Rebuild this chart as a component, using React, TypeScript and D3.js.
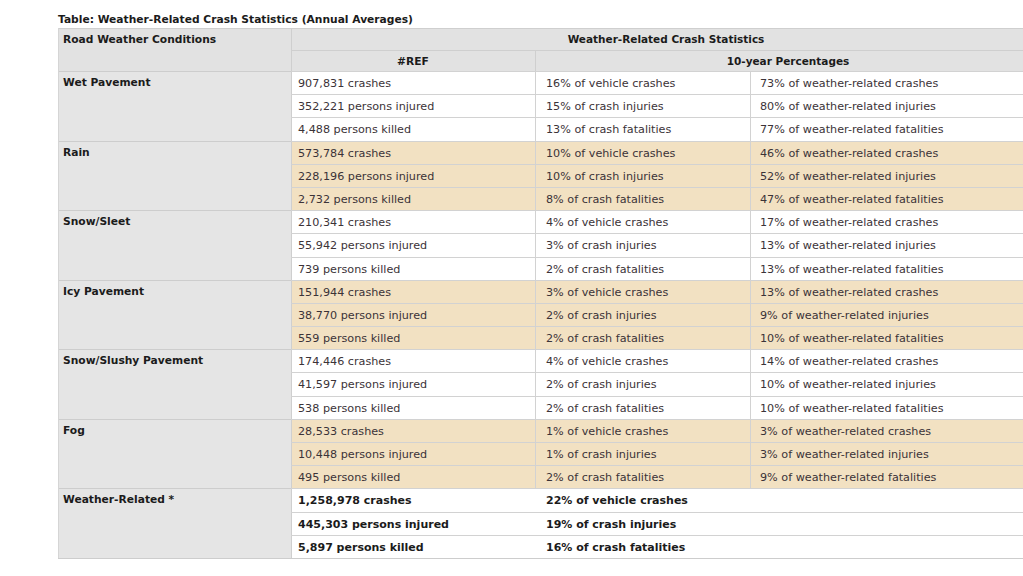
import React from "react";
import * as d3 from "d3";

const conditions = ["Wet Pavement", "Rain", "Snow/Sleet", "Icy Pavement", "Snow/Slushy Pavement", "Fog", "Weather-Related *"];
const crashes = [907831, 573784, 210341, 151944, 174446, 28533, 1258978];
const injured = [352221, 228196, 55942, 38770, 41597, 10448, 445303];
const killed = [4488, 2732, 739, 559, 538, 495, 5897];
const pctVehicleCrashes = [16, 10, 4, 3, 4, 1, 22];
const pctCrashInjuries = [15, 10, 3, 2, 2, 1, 19];
const pctCrashFatalities = [13, 8, 2, 2, 2, 2, 16];
const pctWxCrashes = [73, 46, 17, 13, 14, 3, null];
const pctWxInjuries = [80, 52, 13, 9, 10, 3, null];
const pctWxFatalities = [77, 47, 13, 10, 10, 9, null];

const title = "Table: Weather-Related Crash Statistics (Annual Averages)";
const headerCol1 = "Road Weather Conditions";
const headerTop = "Weather-Related Crash Statistics";
const headerRef = "#REF";
const headerPct = "10-year Percentages";

const W = 1023;
const H = 576;
const colEdges = [58, 291, 535, 750, 1041];
const top1 = 28, top2 = 50, dataTop = 71, dataBottom = 558;

const FONT = "'DejaVu Sans', Verdana, sans-serif";
const FS = 11.2;
const FSB = 10.7;
const TXT = "#3b3338";
const BOLD = "#1b1b1b";
const HEAD_BG = "#e2e2e2";
const COL1_BG = "#e5e5e5";
const WHEAT = "#f2e1c2";
const LINE = "#d2d2d2";

export default function App() {
  const nRows = conditions.length * 3;
  const y = d3.scaleLinear().domain([0, nRows]).range([dataTop, dataBottom]);
  const fmt = d3.format(",");

  const rows: { g: number; r: number; c2: string; c3: string; c4: string | null; bold: boolean }[] = [];
  conditions.forEach((_, g) => {
    const last = g === conditions.length - 1;
    rows.push({ g, r: g * 3, c2: `${fmt(crashes[g])} crashes`, c3: `${pctVehicleCrashes[g]}% of vehicle crashes`, c4: pctWxCrashes[g] == null ? null : `${pctWxCrashes[g]}% of weather-related crashes`, bold: last });
    rows.push({ g, r: g * 3 + 1, c2: `${fmt(injured[g])} persons injured`, c3: `${pctCrashInjuries[g]}% of crash injuries`, c4: pctWxInjuries[g] == null ? null : `${pctWxInjuries[g]}% of weather-related injuries`, bold: last });
    rows.push({ g, r: g * 3 + 2, c2: `${fmt(killed[g])} persons killed`, c3: `${pctCrashFatalities[g]}% of crash fatalities`, c4: pctWxFatalities[g] == null ? null : `${pctWxFatalities[g]}% of weather-related fatalities`, bold: last });
  });

  const rh = y(1) - y(0);

  return (
    <svg width={W} height={H} style={{ position: "absolute", left: 0, top: 0, background: "#fff" }} fontFamily={FONT}>
      <text x={58} y={23} fontSize={10.7} fontWeight="bold" fill={BOLD}>{title}</text>

      {/* header */}
      <rect x={colEdges[0]} y={top1} width={colEdges[4] - colEdges[0]} height={dataTop - top1} fill={HEAD_BG} />
      <line x1={colEdges[0]} x2={colEdges[4]} y1={top1 + 0.5} y2={top1 + 0.5} stroke="#cfcfcf" />
      <line x1={colEdges[1]} x2={colEdges[4]} y1={top2 + 0.5} y2={top2 + 0.5} stroke="#cfcfcf" />
      <line x1={colEdges[1] + 0.5} x2={colEdges[1] + 0.5} y1={top1} y2={dataBottom} stroke="#cfcfcf" />
      <line x1={colEdges[2] + 0.5} x2={colEdges[2] + 0.5} y1={top2} y2={dataTop} stroke="#cfcfcf" />
      <text x={63} y={top1 + 15} fontSize={FSB} fontWeight="bold" fill={BOLD}>{headerCol1}</text>
      <text x={(colEdges[1] + colEdges[4]) / 2} y={top1 + 15} fontSize={10.5} fontWeight="bold" fill={BOLD} textAnchor="middle">{headerTop}</text>
      <text x={(colEdges[1] + colEdges[2]) / 2} y={top2 + 15} fontSize={FSB} fontWeight="bold" fill={BOLD} textAnchor="middle">{headerRef}</text>
      <text x={(colEdges[2] + colEdges[4]) / 2} y={top2 + 15} fontSize={10.5} fontWeight="bold" fill={BOLD} textAnchor="middle">{headerPct}</text>

      {/* column 1 */}
      <rect x={colEdges[0]} y={dataTop} width={colEdges[1] - colEdges[0]} height={dataBottom - dataTop} fill={COL1_BG} />
      {conditions.map((c, g) => (
        <g key={c}>
          <line x1={colEdges[0]} x2={colEdges[1]} y1={Math.round(y(g * 3)) + 0.5} y2={Math.round(y(g * 3)) + 0.5} stroke="#cdcdcd" />
          <text x={63} y={y(g * 3) + 15} fontSize={FSB} fontWeight="bold" fill={BOLD}>{c}</text>
        </g>
      ))}
      <line x1={colEdges[0] + 0.5} x2={colEdges[0] + 0.5} y1={top1} y2={dataBottom} stroke="#d5d5d5" />

      {/* data rows */}
      {rows.map((d) => {
        const yt = Math.round(y(d.r));
        const stripe = d.g % 2 === 1;
        const bg = stripe ? WHEAT : "#ffffff";
        const last = d.g === conditions.length - 1;
        return (
          <g key={d.r}>
            <rect x={colEdges[1] + 1} y={yt} width={colEdges[4] - colEdges[1] - 1} height={rh + 1} fill={bg} />
            <line x1={colEdges[1]} x2={colEdges[4]} y1={yt + 0.5} y2={yt + 0.5} stroke={LINE} />
            {!last && <line x1={colEdges[2] + 0.5} x2={colEdges[2] + 0.5} y1={yt} y2={yt + rh + 1} stroke={LINE} />}
            {!last && <line x1={colEdges[3] + 0.5} x2={colEdges[3] + 0.5} y1={yt} y2={yt + rh + 1} stroke={LINE} />}
            <text x={colEdges[1] + 7} y={y(d.r) + 16} fontSize={d.bold ? 11 : FS} fontWeight={d.bold ? "bold" : "normal"} fill={d.bold ? BOLD : TXT}>{d.c2}</text>
            <text x={colEdges[2] + 11} y={y(d.r) + 16} fontSize={d.bold ? 11 : FS} fontWeight={d.bold ? "bold" : "normal"} fill={d.bold ? BOLD : TXT}>{d.c3}</text>
            {d.c4 && <text x={colEdges[3] + 10} y={y(d.r) + 16} fontSize={FS} fill={TXT}>{d.c4}</text>}
          </g>
        );
      })}
      <line x1={colEdges[0]} x2={colEdges[4]} y1={dataBottom + 0.5} y2={dataBottom + 0.5} stroke="#cdcdcd" />
    </svg>
  );
}
